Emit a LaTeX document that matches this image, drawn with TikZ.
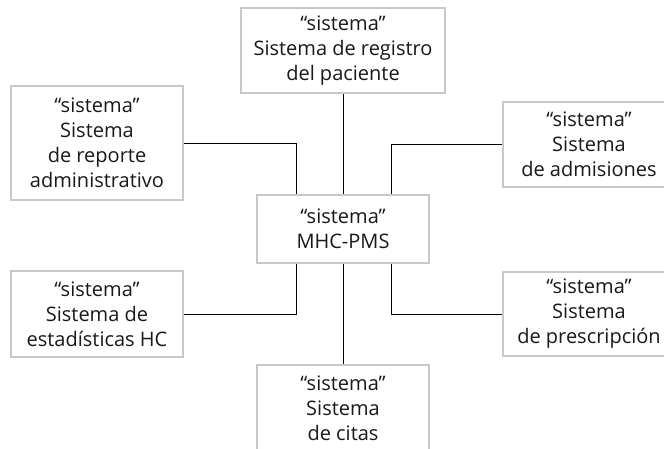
\documentclass[tikz,border=0pt]{standalone}
\usepackage{fontspec}
\setmainfont{Open Sans}
\usetikzlibrary{calc}
\definecolor{boxgray}{HTML}{C8C8C8}
\tikzset{
  sysbox/.style={draw=boxgray, line width=2.8pt, fill=white, align=center,
    inner sep=0pt, font=\fontsize{20}{25}\selectfont, text=black!90},
  conn/.style={draw=black, line width=0.9pt}
}
\begin{document}
\begin{tikzpicture}[x=1pt,y=-1pt]
\useasboundingbox (0,0) rectangle (664,448);
\clip (0,0) rectangle (664,448);
\node[sysbox, minimum width=204pt, minimum height=85pt] (top) at (343,50.5)
  {“sistema”\\Sistema de registro\\del paciente};
\node[sysbox, minimum width=172pt, minimum height=114pt] (left1) at (97,143)
  {“sistema”\\Sistema\\de reporte\\administrativo};
\node[sysbox, minimum width=172pt, minimum height=85pt] (right1) at (589,144.5)
  {“sistema”\\Sistema\\de admisiones};
\node[sysbox, minimum width=172pt, minimum height=68pt] (center) at (343,229)
  {“sistema”\\MHC-PMS};
\node[sysbox, minimum width=172pt, minimum height=86pt] (left2) at (97,314)
  {“sistema”\\Sistema de\\estadísticas HC};
\node[sysbox, minimum width=172pt, minimum height=84pt] (right2) at (589,314)
  {“sistema”\\Sistema\\de prescripción};
\node[sysbox, minimum width=172pt, minimum height=86pt] (bottom) at (343,408)
  {“sistema”\\Sistema\\de citas};
\draw[conn] (top.south) -- (center.north);
\draw[conn] (center.south) -- (bottom.north);
\draw[conn] (left1.east) -| ([xshift=-47pt]center.north);
\draw[conn] (right1.west) -| ([xshift=48pt]center.north);
\draw[conn] (left2.east) -| ([xshift=-47pt]center.south);
\draw[conn] (right2.west) -| ([xshift=48pt]center.south);
\end{tikzpicture}
\end{document}
